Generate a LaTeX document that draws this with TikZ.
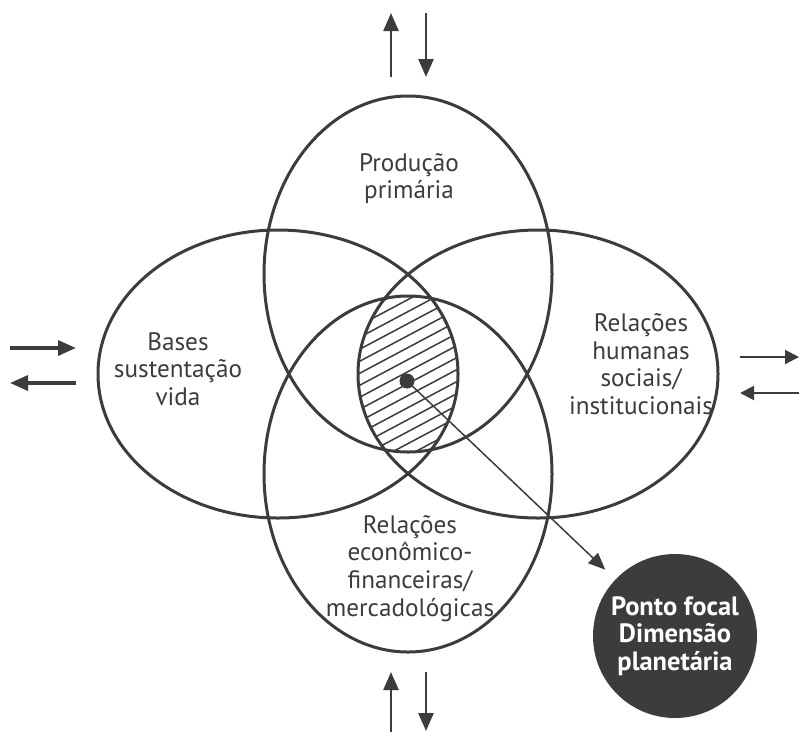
\documentclass[tikz,border=0pt]{standalone}
\usepackage{fontspec}
\setmainfont{PT Sans}
\usetikzlibrary{arrows.meta}
\definecolor{ink}{HTML}{3C3C3C}
\begin{document}
\begin{tikzpicture}[x=1pt,y=-1pt,
  ring/.style={draw=ink,line width=3pt},
  lbl/.style={text=ink,font=\fontsize{25.2}{27.7}\selectfont,align=center,inner sep=0pt},
  hatchline/.style={draw=ink,line width=1.5pt},
  flowthick/.style={draw=ink,line width=3.2pt,-{Triangle[length=18pt,width=15pt]}},
  flowmid/.style={draw=ink,line width=2.5pt,-{Triangle[length=18pt,width=15pt]}},
  flowthin/.style={draw=ink,line width=2pt,-{Triangle[length=14pt,width=14pt]}},
  pointer/.style={draw=ink,line width=1.5pt,-{Triangle[length=17pt,width=14pt]}},
]
\useasboundingbox (0,0) rectangle (799,732);
% hatched common region
\begin{scope}
  \clip (278,374) ellipse [x radius=180pt, y radius=144pt];
  \clip (538,374) ellipse [x radius=180pt, y radius=144pt];
  \clip (408,274) ellipse [x radius=144pt, y radius=178pt];
  \clip (408,474) ellipse [x radius=144pt, y radius=178pt];
  \foreach \k in {-16,...,16} \draw[hatchline] (300,{381+12*\k}) -- ++(220,-117);
\end{scope}
% four ellipses
\draw[ring] (408,274) ellipse [x radius=144pt, y radius=178pt];
\draw[ring] (408,474) ellipse [x radius=144pt, y radius=178pt];
\draw[ring] (278,374) ellipse [x radius=180pt, y radius=144pt];
\draw[ring] (538,374) ellipse [x radius=180pt, y radius=144pt];
% labels
\node[lbl] (prod) at (409,178.5) {Produção\\primária};
\node[lbl] (bases) at (178,369) {Bases\\sustentação\\vida};
\node[lbl] (hum) at (641,364) {Relações\\humanas\\sociais/\\institucionais};
\node[lbl] (eco) at (410,568.5) {Relações\\econômico-\\financeiras/\\mercadológicas};
% focal point
\node[circle,fill=ink,minimum size=15pt,inner sep=0pt] (dot) at (407,381) {};
\node[circle,fill=ink,minimum size=164pt,inner sep=0pt,text=white,align=center,
  font=\bfseries\fontsize{26.5}{27.7}\selectfont] (focal) at (675,636) {Ponto focal\\Dimensão\\planetária};
\draw[pointer,shorten >=14pt] (dot.center) -- (focal);
% exchange arrows
\coordinate (tu1) at (391,77);  \coordinate (tu2) at (391,13);
\coordinate (td1) at (426,13);  \coordinate (td2) at (426,77);
\coordinate (bu1) at (391,732); \coordinate (bu2) at (391,672);
\coordinate (bd1) at (426,672); \coordinate (bd2) at (426,731);
\coordinate (lr1) at (10,348);  \coordinate (lr2) at (76,348);
\coordinate (ll1) at (76,383);  \coordinate (ll2) at (10,383);
\coordinate (rr1) at (740,357); \coordinate (rr2) at (799,357);
\coordinate (rl1) at (799,393); \coordinate (rl2) at (740,393);
\draw[flowmid] (tu1) -- (tu2);
\draw[flowmid] (td1) -- (td2);
\draw[flowmid] (bu1) -- (bu2);
\draw[flowmid] (bd1) -- (bd2);
\draw[flowthick] (lr1) -- (lr2);
\draw[flowthick] (ll1) -- (ll2);
\draw[flowthin] (rr1) -- (rr2);
\draw[flowthin] (rl1) -- (rl2);
\end{tikzpicture}
\end{document}
